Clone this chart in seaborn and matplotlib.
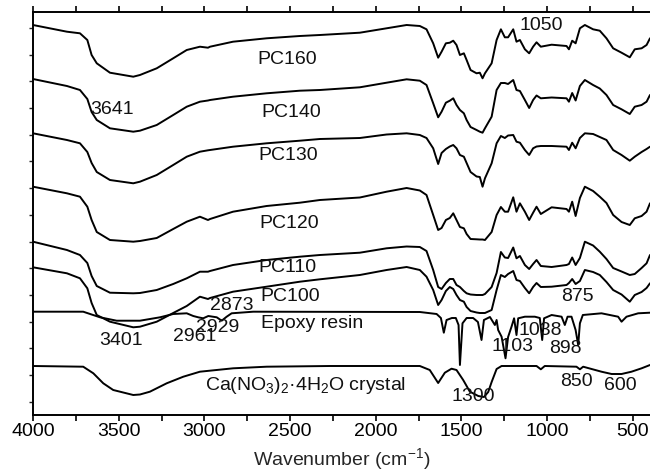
import numpy as np
import pandas as pd
import matplotlib
matplotlib.use("Agg")
import matplotlib.pyplot as plt
import seaborn as sns
from matplotlib.ticker import MultipleLocator, FixedLocator

# ---------------- data (y = stacked offset units, larger = lower) -------------
pc_wn = [4000, 3802, 3726, 3683, 3658, 3628, 3551, 3415, 3376, 3278, 3182, 3103, 3026, 2979, 2967,
         2833, 2637, 2443, 2326, 2093, 1937, 1820, 1743, 1704, 1665, 1636, 1616, 1591, 1568, 1548,
         1529, 1509, 1486, 1470, 1447, 1412, 1393, 1377, 1363, 1324, 1295, 1270, 1247, 1228, 1198,
         1179, 1159, 1130, 1105, 1082, 1062, 1037, 974, 887, 873, 854, 834, 809, 780, 732,
         693, 654, 615, 566, 518, 489, 449, 420, 400]

pc160 = [25, 31.7, 33.3, 40, 55, 63.3, 72.7, 76.7, 75, 68.3, 58.3, 50, 46.7, 47.7, 46.7,
         41.7, 38.3, 36, 35, 32.7, 28.3, 25, 26, 29.3, 43.3, 57.7, 51.7, 43.3, 42.7, 40.7,
         45, 55, 53.3, 60, 70, 73.3, 72.7, 78.3, 73.3, 63.3, 40, 29.3, 37.3, 37.3, 29.3,
         41.7, 40, 49.3, 53.3, 46.7, 42.3, 46.7, 44.7, 46, 49.3, 40.7, 43.3, 28.3, 25, 29.3,
         30.7, 38.3, 48.3, 52.7, 57.3, 49.3, 48.3, 45, 38.3]
pc140 = [79, 86, 90, 99, 112, 120, 128.3, 131.7, 130.7, 125, 115, 106.7, 101.7, 100.5, 100,
         96.7, 93.3, 90.7, 90, 87.3, 82.7, 79.3, 80.7, 85, 103.3, 117.3, 111.7, 102.7, 100.7, 98.3,
         105, 110, 113.3, 120, 127, 130, 131.7, 132.7, 128.3, 116.7, 90, 83, 83, 84, 80,
         90, 91, 100, 108, 100, 95.5, 98.3, 97.5, 98.3, 101.7, 93, 100.5, 86, 80, 85,
         88.5, 95, 105, 109.3, 114, 106.7, 105, 101.7, 95]
pc130 = [133.3, 140, 143.3, 152, 163, 172, 180, 183.3, 181.7, 175, 165, 156.7, 151.7, 150.3, 150,
         146.7, 143.3, 140.7, 139, 138, 134.5, 133.3, 135, 138, 148.3, 164, 153, 149, 146.5, 145,
         148.3, 155, 156.7, 163, 172, 176.5, 177, 186.7, 178.3, 163.3, 143.3, 136, 138, 135.5, 135,
         141.7, 142.7, 150, 155, 148.3, 146.5, 146, 146, 146.7, 150, 142.7, 148.3, 138, 133.3, 134,
         137, 140, 150, 155, 160.7, 156.7, 152, 149, 146.7]
pc120 = [186.7, 193.3, 196.7, 206.7, 220, 232, 240, 241.7, 241, 238, 229, 221.7, 216.7, 220, 219,
         211.7, 206, 202.7, 200, 197.5, 191.7, 188, 190.5, 195, 215, 230, 228, 220, 218, 213.3,
         220, 227, 228.3, 234, 239, 239.3, 239.5, 239.5, 240, 232, 215, 207, 211.7, 211.7, 197.3,
         211.7, 203.3, 211.7, 220, 212.7, 206.7, 214, 207.3, 209, 211.7, 201.7, 216, 198, 186.7, 191,
         196.7, 203, 215, 222, 225, 218.3, 216, 211.7, 203.3]
pc110 = [241.7, 250, 255, 263, 276, 286, 292.7, 293.3, 293, 290, 284, 278.3, 271.7, 271.7, 271,
         265, 260, 256.7, 255, 252.7, 248.3, 246.5, 247, 251, 270, 287, 289, 283, 279, 279,
         285, 287, 291, 293.3, 294.5, 295, 295, 295, 294, 287, 273, 252, 257.5, 258, 247.5,
         258.3, 256, 265, 269, 264, 260, 266, 267, 265, 264, 257.5, 265, 258, 241.7, 245.5,
         251.7, 259, 268, 271.5, 275, 274, 268, 263.3, 255]
pc100 = [267.3, 273.3, 278.3, 288.3, 303, 315, 321.7, 327.3, 326.7, 321.7, 313, 306, 296.7, 299, 298,
         291.7, 286.7, 281.7, 279.3, 275, 270, 267, 270, 276.7, 290, 305, 300, 291, 287, 289,
         295, 300, 301.7, 307, 311, 312.5, 313, 313, 313, 310, 290, 275, 277, 274, 271,
         280, 281, 288, 293.3, 287, 283, 287, 286.7, 285, 283, 279, 284, 281, 270, 272,
         275, 282, 290, 294.5, 301.7, 295, 292, 288, 283.3]

epoxy_wn = [4000, 3707, 3609, 3512, 3376, 3259, 3182, 3103, 3065, 3036, 3007, 2977, 2928, 2899, 2870,
            2841, 2715, 1743, 1645, 1620, 1603, 1587, 1556, 1533, 1517, 1509, 1494, 1470, 1432, 1404,
            1383, 1369, 1334, 1305, 1295, 1286, 1266, 1243, 1228, 1208, 1193, 1179, 1169, 1130, 1072,
            1043, 1029, 1018, 974, 916, 897, 881, 858, 834, 819, 809, 792, 683, 586, 566,
            537, 469, 400]
epoxy = [311.7, 311.7, 317.3, 320.7, 320.7, 317.3, 314, 313.3, 316, 317.3, 318.3, 316, 317.3, 320.7, 316.7,
         313.3, 311.7, 312, 314, 318, 332.7, 320, 318, 318, 325, 365, 323.3, 318, 318, 322,
         340, 320, 317, 325, 320, 330, 336.7, 358.3, 337, 326.7, 318.3, 335, 318.3, 316.7, 316.7,
         318, 340, 318.3, 315, 316.7, 325, 316.7, 316.7, 330, 345, 323.3, 315, 313.3, 316.7, 321.7,
         316.7, 313.3, 312.7]

ca_wn = [4000, 3707, 3648, 3590, 3532, 3415, 3376, 3318, 3220, 3123, 3026, 2832, 2637, 2268, 1743,
         1685, 1636, 1597, 1558, 1529, 1490, 1451, 1402, 1369, 1344, 1324, 1295, 1266, 1062, 1037,
         1014, 829, 809, 790, 683, 624, 566, 508, 449, 400]
ca = [366, 366.7, 373.3, 383.3, 390, 395, 394.5, 391.7, 383.3, 376.7, 371.7, 368.3, 366.7, 366, 366,
      370, 383, 372.7, 368.7, 370, 380, 391.7, 396, 397, 392, 382, 369, 366, 366, 369.3,
      366, 366.7, 369.3, 366.7, 371.7, 374, 374, 371.7, 368.3, 365]

# labels: (text, wavenumber, offset)
curve_labels = [("PC160", 2518, 59), ("PC140", 2495, 112), ("PC130", 2513, 155),
                ("PC120", 2507, 223), ("PC110", 2513, 267), ("PC100", 2501, 296.7),
                ("Epoxy resin", 2373, 323.3),
                ("Ca(NO$_3$)$_2$·4H$_2$O crystal", 2408, 385)]
peak_labels = [("3641", 3539, 109), ("1050", 1033, 25), ("2873", 2843, 305),
               ("3401", 3487, 340), ("2961", 3055, 336.7), ("2929", 2921, 327),
               ("1300", 1433, 396.7), ("1103", 1200, 346), ("1038", 1039, 330),
               ("898", 891, 348), ("875", 821, 296.7), ("850", 827, 381.7),
               ("600", 576, 385)]

# ---------------- plotting ----------------
sns.set_theme(style="ticks")
plt.rcParams["font.family"] = ["Liberation Sans", "DejaVu Sans"]
plt.rcParams["mathtext.fontset"] = "custom"
plt.rcParams["mathtext.rm"] = "Liberation Sans"
plt.rcParams["mathtext.it"] = "Liberation Sans:italic"

fig = plt.figure(figsize=(6.5, 4.73), dpi=100)
ax = fig.add_axes([33 / 650, 58 / 473, 617 / 650, 403 / 473])

series = [(pc_wn, pc160), (pc_wn, pc140), (pc_wn, pc130), (pc_wn, pc120),
          (pc_wn, pc110), (pc_wn, pc100), (epoxy_wn, epoxy), (ca_wn, ca)]
for xs, ys in series:
    sns.lineplot(x=xs, y=ys, ax=ax, color="black", linewidth=1.4, sort=False, estimator=None)

for txt, x, y in curve_labels + peak_labels:
    ax.text(x, y, txt, ha="center", va="center", fontsize=14, color="#111111")

ax.set_xlim(4000, 400)
ax.set_ylim(415, 12)

ax.xaxis.set_major_locator(FixedLocator([4000, 3500, 3000, 2500, 2000, 1500, 1000, 500]))
ax.xaxis.set_minor_locator(MultipleLocator(250))
ax.yaxis.set_major_locator(FixedLocator(np.arange(401.7, 12, -26.7)))
ax.set_yticklabels([])
ax.tick_params(axis="x", which="both", direction="out", length=4, width=1.2,
               top=True, labelsize=14, pad=2, colors="black")
ax.tick_params(axis="y", which="both", direction="out", length=3, width=1.0, left=True)
for s in ["left", "bottom", "top"]:
    ax.spines[s].set_linewidth(1.4)
    ax.spines[s].set_color("black")
ax.spines["right"].set_visible(False)

ax.set_xlabel("Wavenumber (cm$^{-1}$)", fontsize=14, labelpad=4)
ax.set_ylabel("")

fig.savefig("out.png", dpi=100)
